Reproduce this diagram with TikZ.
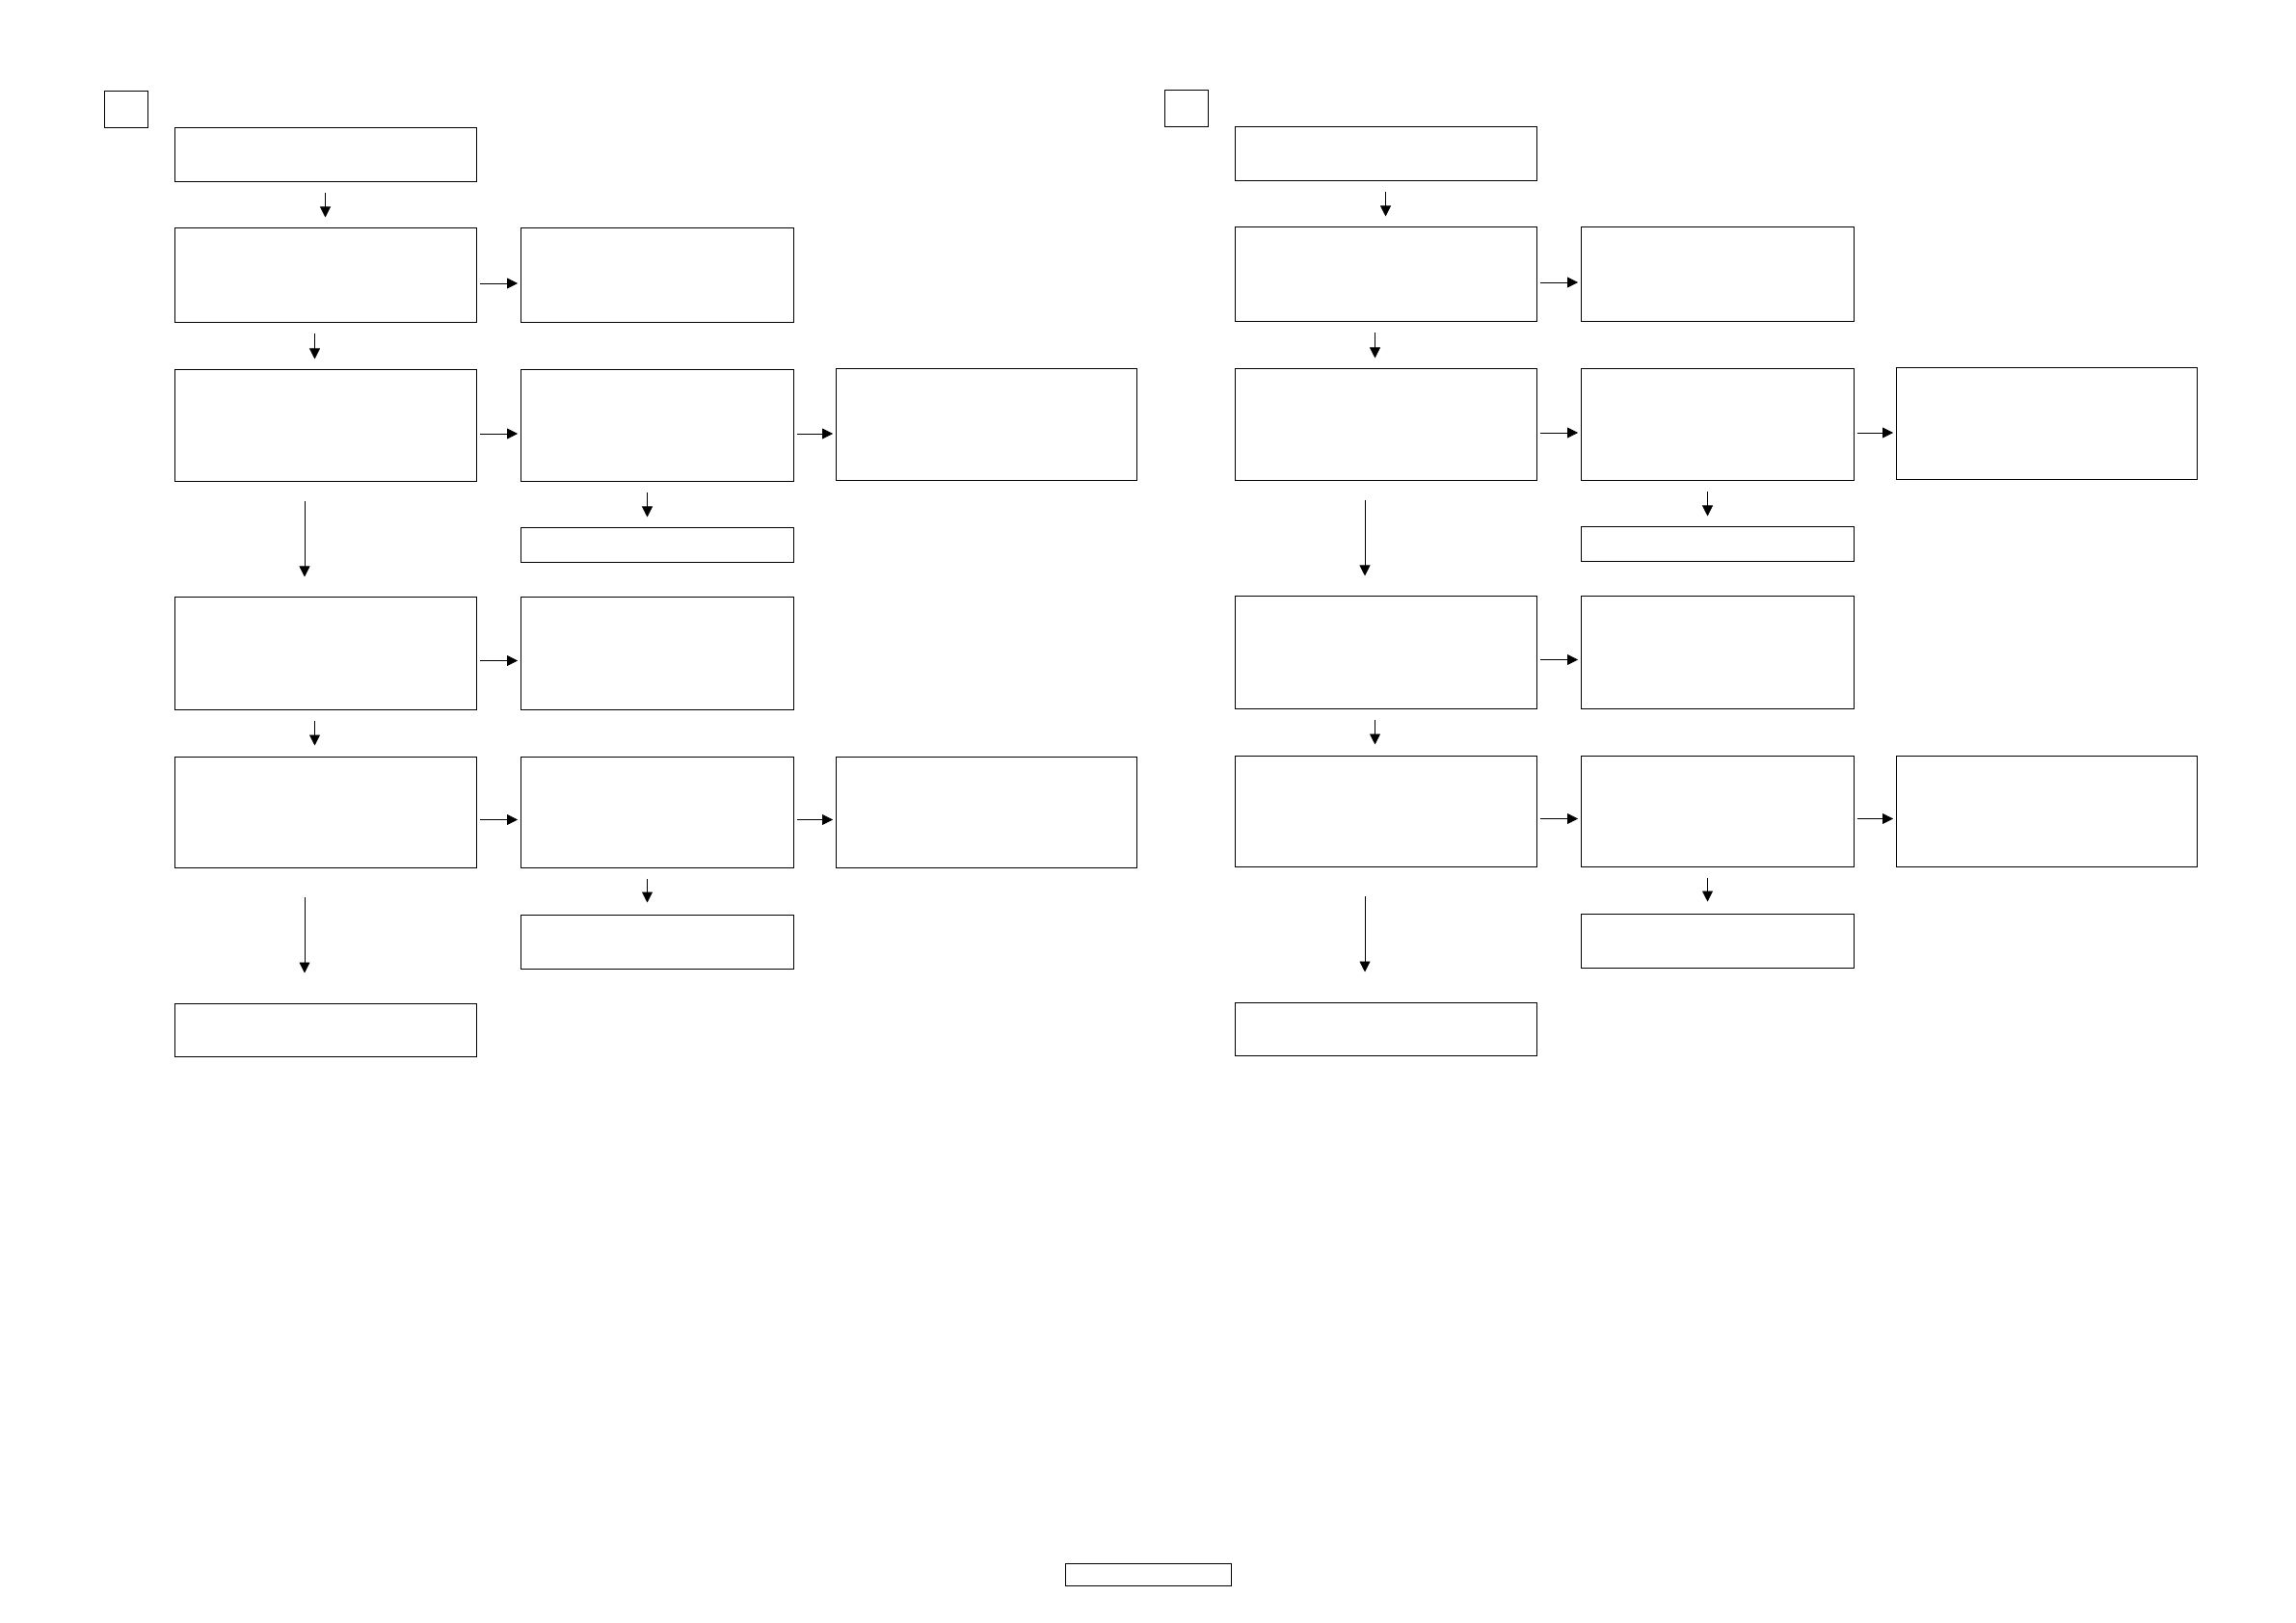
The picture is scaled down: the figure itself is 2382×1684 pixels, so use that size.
\documentclass[tikz,border=0pt]{standalone}
\usetikzlibrary{fit,arrows.meta}
\tikzset{
  box/.style={draw=black,line width=0.5pt,inner sep=0pt,fill=white},
  arr/.style={draw=black,line width=0.4pt,-{Triangle[length=5.5pt,width=5.5pt]}},
}
\newcommand\bx[5]{\node[box,fit={(#2,#3)(#4,#5)}] (#1) {};}
\newcommand\panel[3]{%
  \bx{#1S}{#2+108}{#3+94}{#2+153}{#3+132}
  \bx{#1A}{#2+181}{#3+132}{#2+494}{#3+188}
  \bx{#1B}{#2+181}{#3+236}{#2+494}{#3+334}
  \bx{#1Bm}{#2+540}{#3+236}{#2+823}{#3+334}
  \bx{#1C}{#2+181}{#3+383}{#2+494}{#3+499}
  \bx{#1Cm}{#2+540}{#3+383}{#2+823}{#3+499}
  \bx{#1Cr}{#2+867}{#3+382}{#2+1179}{#3+498}
  \bx{#1Cs}{#2+540}{#3+547}{#2+823}{#3+583}
  \bx{#1D}{#2+181}{#3+618}{#2+494}{#3+735}
  \bx{#1Dm}{#2+540}{#3+618}{#2+823}{#3+735}
  \bx{#1E}{#2+181}{#3+784}{#2+494}{#3+899}
  \bx{#1Em}{#2+540}{#3+784}{#2+823}{#3+899}
  \bx{#1Er}{#2+867}{#3+784}{#2+1179}{#3+899}
  \bx{#1Es}{#2+540}{#3+948}{#2+823}{#3+1004}
  \bx{#1F}{#2+181}{#3+1040}{#2+494}{#3+1095}
  % vertical connectors
  \draw[arr,shorten <=5.5pt,shorten >=5.5pt] (#1A.south) -- (#1B.north);
  \draw[arr,shorten <=5.5pt,shorten >=5.5pt] ([xshift=-5.5pt]#1B.south) -- ([xshift=-5.5pt]#1C.north);
  \draw[arr,shorten <=10pt,shorten >=10pt] ([xshift=-10.75pt]#1C.south) -- ([xshift=-10.75pt]#1D.north);
  \draw[arr,shorten <=5.5pt,shorten >=5.5pt] ([xshift=-5.5pt]#1D.south) -- ([xshift=-5.5pt]#1E.north);
  \draw[arr,shorten <=15pt,shorten >=15.5pt] ([xshift=-10.75pt]#1E.south) -- ([xshift=-10.75pt]#1F.north);
  \draw[arr,shorten <=5.5pt,shorten >=5.5pt] ([xshift=-5pt]#1Cm.south) -- ([xshift=-5pt]#1Cs.north);
  \draw[arr,shorten <=5.5pt,shorten >=6pt] ([xshift=-5pt]#1Em.south) -- ([xshift=-5pt]#1Es.north);
  % horizontal connectors
  \draw[arr,shorten <=1.5pt,shorten >=1.25pt] ([yshift=-4pt]#1B.east) -- ([yshift=-4pt]#1Bm.west);
  \draw[arr,shorten <=1.5pt,shorten >=1.25pt] ([yshift=-4pt]#1C.east) -- ([yshift=-4pt]#1Cm.west);
  \draw[arr,shorten <=1.5pt,shorten >=1.25pt] ([yshift=-4pt]#1Cm.east) -- ([yshift=-4pt]#1Cm.east -| #1Cr.west);
  \draw[arr,shorten <=1.5pt,shorten >=1.25pt] ([yshift=-4pt]#1D.east) -- ([yshift=-4pt]#1Dm.west);
  \draw[arr,shorten <=1.5pt,shorten >=1.25pt] ([yshift=-4pt]#1E.east) -- ([yshift=-4pt]#1Em.west);
  \draw[arr,shorten <=1.5pt,shorten >=1.25pt] ([yshift=-4pt]#1Em.east) -- ([yshift=-4pt]#1Er.west);
}
\begin{document}
\begin{tikzpicture}[x=0.5pt,y=-0.5pt]
  \useasboundingbox (0,0) rectangle (2382,1684);
  \panel{L}{0}{1}
  \panel{R}{1100}{0}
  \bx{footer}{1105}{1622}{1277}{1645}
\end{tikzpicture}
\end{document}
